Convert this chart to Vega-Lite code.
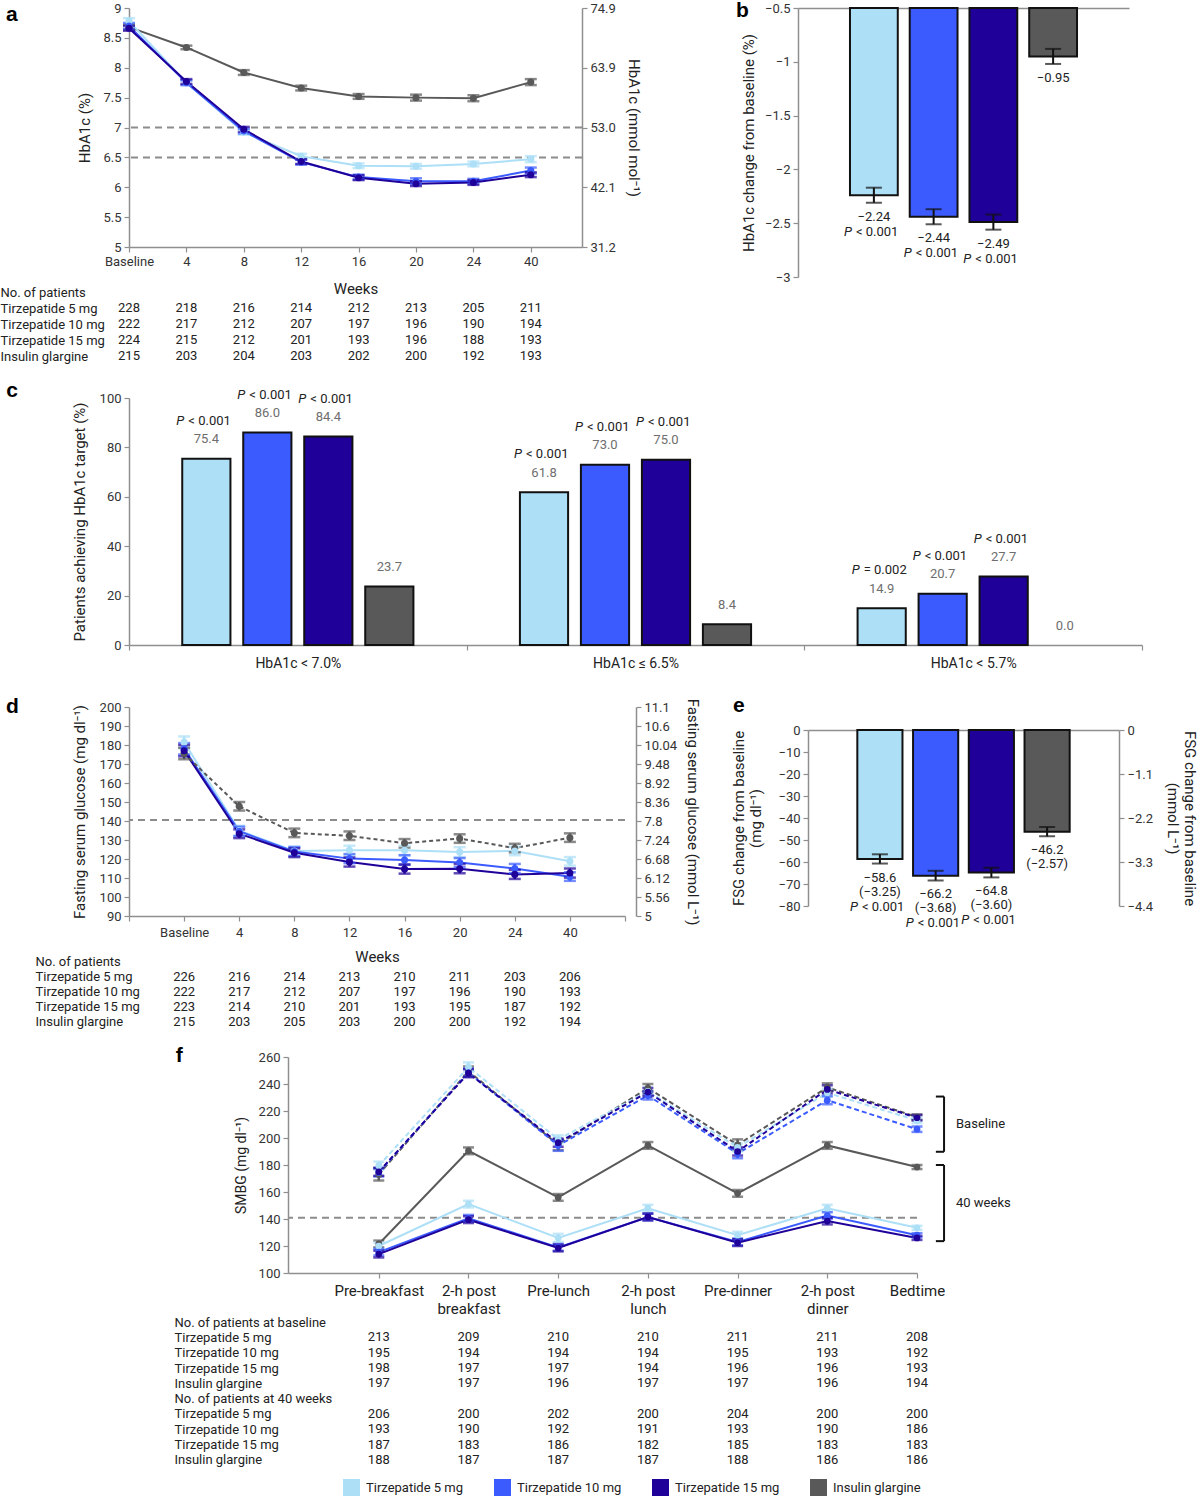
{
  "$schema": "https://vega.github.io/schema/vega-lite/v6.json",
  "padding": 0,
  "background": "white",
  "config": {
    "font": "Roboto",
    "view": {"stroke": null},
    "axis": {"domainColor": "#8f8f8f", "tickColor": "#8f8f8f", "domainWidth": 1.5, "tickWidth": 1.2, "labelColor": "#333", "titleColor": "#222", "labelFontSize": 13, "titleFontSize": 15, "titleFontWeight": "normal", "labelFont": "Roboto", "titleFont": "Roboto", "grid": false, "tickSize": 5, "labelPadding": 3, "labelOverlap": false},
    "text": {"font": "Roboto"}
  },
  "datasets": {
    "hba1c": [
      {"w": "Baseline", "s": "Insulin glargine", "v": 8.68, "lo": 8.64, "hi": 8.72},
      {"w": "4", "s": "Insulin glargine", "v": 8.34, "lo": 8.31, "hi": 8.37},
      {"w": "8", "s": "Insulin glargine", "v": 7.92, "lo": 7.88, "hi": 7.96},
      {"w": "12", "s": "Insulin glargine", "v": 7.66, "lo": 7.62, "hi": 7.70},
      {"w": "16", "s": "Insulin glargine", "v": 7.52, "lo": 7.48, "hi": 7.56},
      {"w": "20", "s": "Insulin glargine", "v": 7.50, "lo": 7.45, "hi": 7.55},
      {"w": "24", "s": "Insulin glargine", "v": 7.49, "lo": 7.44, "hi": 7.54},
      {"w": "40", "s": "Insulin glargine", "v": 7.76, "lo": 7.71, "hi": 7.81},
      {"w": "Baseline", "s": "Tirzepatide 5 mg", "v": 8.78, "lo": 8.73, "hi": 8.83},
      {"w": "4", "s": "Tirzepatide 5 mg", "v": 7.75, "lo": 7.71, "hi": 7.79},
      {"w": "8", "s": "Tirzepatide 5 mg", "v": 6.92, "lo": 6.88, "hi": 6.96},
      {"w": "12", "s": "Tirzepatide 5 mg", "v": 6.52, "lo": 6.48, "hi": 6.56},
      {"w": "16", "s": "Tirzepatide 5 mg", "v": 6.36, "lo": 6.32, "hi": 6.40},
      {"w": "20", "s": "Tirzepatide 5 mg", "v": 6.35, "lo": 6.31, "hi": 6.39},
      {"w": "24", "s": "Tirzepatide 5 mg", "v": 6.39, "lo": 6.35, "hi": 6.43},
      {"w": "40", "s": "Tirzepatide 5 mg", "v": 6.47, "lo": 6.42, "hi": 6.52},
      {"w": "Baseline", "s": "Tirzepatide 10 mg", "v": 8.70, "lo": 8.65, "hi": 8.75},
      {"w": "4", "s": "Tirzepatide 10 mg", "v": 7.75, "lo": 7.71, "hi": 7.79},
      {"w": "8", "s": "Tirzepatide 10 mg", "v": 6.94, "lo": 6.90, "hi": 6.98},
      {"w": "12", "s": "Tirzepatide 10 mg", "v": 6.42, "lo": 6.38, "hi": 6.46},
      {"w": "16", "s": "Tirzepatide 10 mg", "v": 6.17, "lo": 6.13, "hi": 6.21},
      {"w": "20", "s": "Tirzepatide 10 mg", "v": 6.10, "lo": 6.05, "hi": 6.15},
      {"w": "24", "s": "Tirzepatide 10 mg", "v": 6.10, "lo": 6.06, "hi": 6.14},
      {"w": "40", "s": "Tirzepatide 10 mg", "v": 6.28, "lo": 6.23, "hi": 6.33},
      {"w": "Baseline", "s": "Tirzepatide 15 mg", "v": 8.66, "lo": 8.62, "hi": 8.70},
      {"w": "4", "s": "Tirzepatide 15 mg", "v": 7.77, "lo": 7.73, "hi": 7.81},
      {"w": "8", "s": "Tirzepatide 15 mg", "v": 6.97, "lo": 6.93, "hi": 7.01},
      {"w": "12", "s": "Tirzepatide 15 mg", "v": 6.43, "lo": 6.39, "hi": 6.47},
      {"w": "16", "s": "Tirzepatide 15 mg", "v": 6.16, "lo": 6.12, "hi": 6.20},
      {"w": "20", "s": "Tirzepatide 15 mg", "v": 6.06, "lo": 6.02, "hi": 6.10},
      {"w": "24", "s": "Tirzepatide 15 mg", "v": 6.08, "lo": 6.04, "hi": 6.12},
      {"w": "40", "s": "Tirzepatide 15 mg", "v": 6.21, "lo": 6.17, "hi": 6.25}
    ],
    "nA": [
      {"g": "Tirzepatide 5 mg", "Baseline": 228, "4": 218, "8": 216, "12": 214, "16": 212, "20": 213, "24": 205, "40": 211},
      {"g": "Tirzepatide 10 mg", "Baseline": 222, "4": 217, "8": 212, "12": 207, "16": 197, "20": 196, "24": 190, "40": 194},
      {"g": "Tirzepatide 15 mg", "Baseline": 224, "4": 215, "8": 212, "12": 201, "16": 193, "20": 196, "24": 188, "40": 193},
      {"g": "Insulin glargine", "Baseline": 215, "4": 203, "8": 204, "12": 203, "16": 202, "20": 200, "24": 192, "40": 193}
    ],
    "hbchg": [
      {"s": "Tirzepatide 5 mg", "v": -2.24, "lo": -2.31, "hi": -2.17, "p": "< 0.001"},
      {"s": "Tirzepatide 10 mg", "v": -2.44, "lo": -2.51, "hi": -2.37, "p": "< 0.001"},
      {"s": "Tirzepatide 15 mg", "v": -2.49, "lo": -2.56, "hi": -2.42, "p": "< 0.001"},
      {"s": "Insulin glargine", "v": -0.95, "lo": -1.02, "hi": -0.88, "p": null}
    ],
    "target": [
      {"t": "HbA1c < 7.0%", "s": "Tirzepatide 5 mg", "v": 75.4, "p": "< 0.001"},
      {"t": "HbA1c < 7.0%", "s": "Tirzepatide 10 mg", "v": 86.0, "p": "< 0.001"},
      {"t": "HbA1c < 7.0%", "s": "Tirzepatide 15 mg", "v": 84.4, "p": "< 0.001"},
      {"t": "HbA1c < 7.0%", "s": "Insulin glargine", "v": 23.7, "p": null},
      {"t": "HbA1c ≤ 6.5%", "s": "Tirzepatide 5 mg", "v": 61.8, "p": "< 0.001"},
      {"t": "HbA1c ≤ 6.5%", "s": "Tirzepatide 10 mg", "v": 73.0, "p": "< 0.001"},
      {"t": "HbA1c ≤ 6.5%", "s": "Tirzepatide 15 mg", "v": 75.0, "p": "< 0.001"},
      {"t": "HbA1c ≤ 6.5%", "s": "Insulin glargine", "v": 8.4, "p": null},
      {"t": "HbA1c < 5.7%", "s": "Tirzepatide 5 mg", "v": 14.9, "p": "= 0.002"},
      {"t": "HbA1c < 5.7%", "s": "Tirzepatide 10 mg", "v": 20.7, "p": "< 0.001"},
      {"t": "HbA1c < 5.7%", "s": "Tirzepatide 15 mg", "v": 27.7, "p": "< 0.001"},
      {"t": "HbA1c < 5.7%", "s": "Insulin glargine", "v": 0.0, "p": null}
    ],
    "fsg": [
      {"w": "Baseline", "s": "Insulin glargine", "v": 175.5, "lo": 172.5, "hi": 178.5},
      {"w": "4", "s": "Insulin glargine", "v": 147.7, "lo": 145.5, "hi": 150.0},
      {"w": "8", "s": "Insulin glargine", "v": 133.7, "lo": 131.5, "hi": 136.0},
      {"w": "12", "s": "Insulin glargine", "v": 132.2, "lo": 130.0, "hi": 134.5},
      {"w": "16", "s": "Insulin glargine", "v": 128.3, "lo": 126.0, "hi": 130.5},
      {"w": "20", "s": "Insulin glargine", "v": 130.8, "lo": 128.5, "hi": 133.0},
      {"w": "24", "s": "Insulin glargine", "v": 125.7, "lo": 123.5, "hi": 128.0},
      {"w": "40", "s": "Insulin glargine", "v": 131.2, "lo": 129.0, "hi": 133.5},
      {"w": "Baseline", "s": "Tirzepatide 5 mg", "v": 181.5, "lo": 178.5, "hi": 184.5},
      {"w": "4", "s": "Tirzepatide 5 mg", "v": 135.0, "lo": 132.5, "hi": 137.5},
      {"w": "8", "s": "Tirzepatide 5 mg", "v": 124.2, "lo": 122.0, "hi": 126.5},
      {"w": "12", "s": "Tirzepatide 5 mg", "v": 124.6, "lo": 122.0, "hi": 127.0},
      {"w": "16", "s": "Tirzepatide 5 mg", "v": 124.6, "lo": 122.0, "hi": 127.0},
      {"w": "20", "s": "Tirzepatide 5 mg", "v": 123.7, "lo": 121.0, "hi": 126.2},
      {"w": "24", "s": "Tirzepatide 5 mg", "v": 124.2, "lo": 122.0, "hi": 126.5},
      {"w": "40", "s": "Tirzepatide 5 mg", "v": 118.8, "lo": 116.5, "hi": 121.0},
      {"w": "Baseline", "s": "Tirzepatide 10 mg", "v": 178.0, "lo": 175.0, "hi": 181.0},
      {"w": "4", "s": "Tirzepatide 10 mg", "v": 134.6, "lo": 132.0, "hi": 137.0},
      {"w": "8", "s": "Tirzepatide 10 mg", "v": 123.9, "lo": 121.5, "hi": 126.3},
      {"w": "12", "s": "Tirzepatide 10 mg", "v": 120.2, "lo": 117.8, "hi": 122.6},
      {"w": "16", "s": "Tirzepatide 10 mg", "v": 119.5, "lo": 117.0, "hi": 122.0},
      {"w": "20", "s": "Tirzepatide 10 mg", "v": 118.1, "lo": 115.7, "hi": 120.5},
      {"w": "24", "s": "Tirzepatide 10 mg", "v": 115.0, "lo": 112.6, "hi": 117.4},
      {"w": "40", "s": "Tirzepatide 10 mg", "v": 110.7, "lo": 108.5, "hi": 113.0},
      {"w": "Baseline", "s": "Tirzepatide 15 mg", "v": 177.0, "lo": 174.0, "hi": 180.0},
      {"w": "4", "s": "Tirzepatide 15 mg", "v": 133.3, "lo": 131.0, "hi": 135.6},
      {"w": "8", "s": "Tirzepatide 15 mg", "v": 123.3, "lo": 121.0, "hi": 125.6},
      {"w": "12", "s": "Tirzepatide 15 mg", "v": 118.4, "lo": 116.0, "hi": 120.8},
      {"w": "16", "s": "Tirzepatide 15 mg", "v": 114.7, "lo": 112.3, "hi": 117.1},
      {"w": "20", "s": "Tirzepatide 15 mg", "v": 114.9, "lo": 112.5, "hi": 117.3},
      {"w": "24", "s": "Tirzepatide 15 mg", "v": 111.9, "lo": 109.5, "hi": 114.3},
      {"w": "40", "s": "Tirzepatide 15 mg", "v": 112.6, "lo": 110.2, "hi": 115.0}
    ],
    "nD": [
      {"g": "Tirzepatide 5 mg", "Baseline": 226, "4": 216, "8": 214, "12": 213, "16": 210, "20": 211, "24": 203, "40": 206},
      {"g": "Tirzepatide 10 mg", "Baseline": 222, "4": 217, "8": 212, "12": 207, "16": 197, "20": 196, "24": 190, "40": 193},
      {"g": "Tirzepatide 15 mg", "Baseline": 223, "4": 214, "8": 210, "12": 201, "16": 193, "20": 195, "24": 187, "40": 192},
      {"g": "Insulin glargine", "Baseline": 215, "4": 203, "8": 205, "12": 203, "16": 200, "20": 200, "24": 192, "40": 194}
    ],
    "fsgchg": [
      {"s": "Tirzepatide 5 mg", "v": -58.6, "lo": -60.7, "hi": -56.5, "mm": "(−3.25)", "p": "< 0.001"},
      {"s": "Tirzepatide 10 mg", "v": -66.2, "lo": -68.4, "hi": -64.0, "mm": "(−3.68)", "p": "< 0.001"},
      {"s": "Tirzepatide 15 mg", "v": -64.8, "lo": -67.0, "hi": -62.6, "mm": "(−3.60)", "p": "< 0.001"},
      {"s": "Insulin glargine", "v": -46.2, "lo": -48.3, "hi": -44.1, "mm": "(−2.57)", "p": null}
    ],
    "smbg": [
      {"t": "Baseline", "m": "Pre-breakfast", "s": "Insulin glargine", "v": 173.0, "lo": 168.5, "hi": 177.5},
      {"t": "Baseline", "m": "2-h post breakfast", "s": "Insulin glargine", "v": 249.5, "lo": 246.0, "hi": 253.0},
      {"t": "Baseline", "m": "Pre-lunch", "s": "Insulin glargine", "v": 195.0, "lo": 191.0, "hi": 199.0},
      {"t": "Baseline", "m": "2-h post lunch", "s": "Insulin glargine", "v": 237.0, "lo": 234.0, "hi": 240.0},
      {"t": "Baseline", "m": "Pre-dinner", "s": "Insulin glargine", "v": 195.0, "lo": 191.0, "hi": 199.0},
      {"t": "Baseline", "m": "2-h post dinner", "s": "Insulin glargine", "v": 237.5, "lo": 234.5, "hi": 240.5},
      {"t": "Baseline", "m": "Bedtime", "s": "Insulin glargine", "v": 215.5, "lo": 213.5, "hi": 217.5},
      {"t": "Baseline", "m": "Pre-breakfast", "s": "Tirzepatide 5 mg", "v": 179.5, "lo": 176.5, "hi": 182.5},
      {"t": "Baseline", "m": "2-h post breakfast", "s": "Tirzepatide 5 mg", "v": 252.5, "lo": 249.0, "hi": 256.0},
      {"t": "Baseline", "m": "Pre-lunch", "s": "Tirzepatide 5 mg", "v": 199.0, "lo": 196.0, "hi": 202.0},
      {"t": "Baseline", "m": "2-h post lunch", "s": "Tirzepatide 5 mg", "v": 234.5, "lo": 231.5, "hi": 237.5},
      {"t": "Baseline", "m": "Pre-dinner", "s": "Tirzepatide 5 mg", "v": 193.0, "lo": 190.0, "hi": 196.0},
      {"t": "Baseline", "m": "2-h post dinner", "s": "Tirzepatide 5 mg", "v": 233.5, "lo": 230.5, "hi": 236.5},
      {"t": "Baseline", "m": "Bedtime", "s": "Tirzepatide 5 mg", "v": 213.0, "lo": 211.0, "hi": 215.0},
      {"t": "Baseline", "m": "Pre-breakfast", "s": "Tirzepatide 10 mg", "v": 174.5, "lo": 171.5, "hi": 177.5},
      {"t": "Baseline", "m": "2-h post breakfast", "s": "Tirzepatide 10 mg", "v": 248.5, "lo": 245.5, "hi": 251.5},
      {"t": "Baseline", "m": "Pre-lunch", "s": "Tirzepatide 10 mg", "v": 194.5, "lo": 190.5, "hi": 198.5},
      {"t": "Baseline", "m": "2-h post lunch", "s": "Tirzepatide 10 mg", "v": 231.5, "lo": 228.5, "hi": 234.5},
      {"t": "Baseline", "m": "Pre-dinner", "s": "Tirzepatide 10 mg", "v": 188.5, "lo": 185.0, "hi": 192.0},
      {"t": "Baseline", "m": "2-h post dinner", "s": "Tirzepatide 10 mg", "v": 228.0, "lo": 225.0, "hi": 231.0},
      {"t": "Baseline", "m": "Bedtime", "s": "Tirzepatide 10 mg", "v": 206.5, "lo": 204.5, "hi": 208.5},
      {"t": "Baseline", "m": "Pre-breakfast", "s": "Tirzepatide 15 mg", "v": 175.0, "lo": 172.0, "hi": 178.0},
      {"t": "Baseline", "m": "2-h post breakfast", "s": "Tirzepatide 15 mg", "v": 248.0, "lo": 245.0, "hi": 251.0},
      {"t": "Baseline", "m": "Pre-lunch", "s": "Tirzepatide 15 mg", "v": 196.5, "lo": 193.5, "hi": 199.5},
      {"t": "Baseline", "m": "2-h post lunch", "s": "Tirzepatide 15 mg", "v": 234.0, "lo": 231.0, "hi": 237.0},
      {"t": "Baseline", "m": "Pre-dinner", "s": "Tirzepatide 15 mg", "v": 190.0, "lo": 187.0, "hi": 193.0},
      {"t": "Baseline", "m": "2-h post dinner", "s": "Tirzepatide 15 mg", "v": 236.0, "lo": 233.0, "hi": 239.0},
      {"t": "Baseline", "m": "Bedtime", "s": "Tirzepatide 15 mg", "v": 215.0, "lo": 213.0, "hi": 217.0},
      {"t": "40 weeks", "m": "Pre-breakfast", "s": "Insulin glargine", "v": 121.5, "lo": 119.0, "hi": 124.0},
      {"t": "40 weeks", "m": "2-h post breakfast", "s": "Insulin glargine", "v": 190.5, "lo": 188.0, "hi": 193.0},
      {"t": "40 weeks", "m": "Pre-lunch", "s": "Insulin glargine", "v": 156.0, "lo": 153.5, "hi": 158.5},
      {"t": "40 weeks", "m": "2-h post lunch", "s": "Insulin glargine", "v": 194.5, "lo": 192.0, "hi": 197.0},
      {"t": "40 weeks", "m": "Pre-dinner", "s": "Insulin glargine", "v": 159.0, "lo": 156.5, "hi": 161.5},
      {"t": "40 weeks", "m": "2-h post dinner", "s": "Insulin glargine", "v": 194.5, "lo": 192.0, "hi": 197.0},
      {"t": "40 weeks", "m": "Bedtime", "s": "Insulin glargine", "v": 178.5, "lo": 177.0, "hi": 180.0},
      {"t": "40 weeks", "m": "Pre-breakfast", "s": "Tirzepatide 5 mg", "v": 120.0, "lo": 117.5, "hi": 122.5},
      {"t": "40 weeks", "m": "2-h post breakfast", "s": "Tirzepatide 5 mg", "v": 151.0, "lo": 148.5, "hi": 153.5},
      {"t": "40 weeks", "m": "Pre-lunch", "s": "Tirzepatide 5 mg", "v": 126.0, "lo": 123.0, "hi": 129.0},
      {"t": "40 weeks", "m": "2-h post lunch", "s": "Tirzepatide 5 mg", "v": 148.0, "lo": 145.5, "hi": 150.5},
      {"t": "40 weeks", "m": "Pre-dinner", "s": "Tirzepatide 5 mg", "v": 128.0, "lo": 125.5, "hi": 130.5},
      {"t": "40 weeks", "m": "2-h post dinner", "s": "Tirzepatide 5 mg", "v": 148.0, "lo": 145.5, "hi": 150.5},
      {"t": "40 weeks", "m": "Bedtime", "s": "Tirzepatide 5 mg", "v": 133.5, "lo": 132.0, "hi": 135.0},
      {"t": "40 weeks", "m": "Pre-breakfast", "s": "Tirzepatide 10 mg", "v": 115.5, "lo": 113.0, "hi": 118.0},
      {"t": "40 weeks", "m": "2-h post breakfast", "s": "Tirzepatide 10 mg", "v": 140.5, "lo": 138.0, "hi": 143.0},
      {"t": "40 weeks", "m": "Pre-lunch", "s": "Tirzepatide 10 mg", "v": 119.0, "lo": 116.5, "hi": 121.5},
      {"t": "40 weeks", "m": "2-h post lunch", "s": "Tirzepatide 10 mg", "v": 141.5, "lo": 139.0, "hi": 144.0},
      {"t": "40 weeks", "m": "Pre-dinner", "s": "Tirzepatide 10 mg", "v": 123.0, "lo": 120.5, "hi": 125.5},
      {"t": "40 weeks", "m": "2-h post dinner", "s": "Tirzepatide 10 mg", "v": 142.5, "lo": 140.0, "hi": 145.0},
      {"t": "40 weeks", "m": "Bedtime", "s": "Tirzepatide 10 mg", "v": 128.0, "lo": 126.5, "hi": 129.5},
      {"t": "40 weeks", "m": "Pre-breakfast", "s": "Tirzepatide 15 mg", "v": 114.0, "lo": 111.5, "hi": 116.5},
      {"t": "40 weeks", "m": "2-h post breakfast", "s": "Tirzepatide 15 mg", "v": 139.5, "lo": 137.0, "hi": 142.0},
      {"t": "40 weeks", "m": "Pre-lunch", "s": "Tirzepatide 15 mg", "v": 118.5, "lo": 116.0, "hi": 121.0},
      {"t": "40 weeks", "m": "2-h post lunch", "s": "Tirzepatide 15 mg", "v": 141.5, "lo": 139.0, "hi": 144.0},
      {"t": "40 weeks", "m": "Pre-dinner", "s": "Tirzepatide 15 mg", "v": 122.5, "lo": 120.0, "hi": 125.0},
      {"t": "40 weeks", "m": "2-h post dinner", "s": "Tirzepatide 15 mg", "v": 138.5, "lo": 136.0, "hi": 141.0},
      {"t": "40 weeks", "m": "Bedtime", "s": "Tirzepatide 15 mg", "v": 126.0, "lo": 124.5, "hi": 127.5}
    ],
    "nF": [
      {"g": "b|Tirzepatide 5 mg", "Pre-breakfast": 213, "2-h post breakfast": 209, "Pre-lunch": 210, "2-h post lunch": 210, "Pre-dinner": 211, "2-h post dinner": 211, "Bedtime": 208},
      {"g": "b|Tirzepatide 10 mg", "Pre-breakfast": 195, "2-h post breakfast": 194, "Pre-lunch": 194, "2-h post lunch": 194, "Pre-dinner": 195, "2-h post dinner": 193, "Bedtime": 192},
      {"g": "b|Tirzepatide 15 mg", "Pre-breakfast": 198, "2-h post breakfast": 197, "Pre-lunch": 197, "2-h post lunch": 194, "Pre-dinner": 196, "2-h post dinner": 196, "Bedtime": 193},
      {"g": "b|Insulin glargine", "Pre-breakfast": 197, "2-h post breakfast": 197, "Pre-lunch": 196, "2-h post lunch": 197, "Pre-dinner": 197, "2-h post dinner": 196, "Bedtime": 194},
      {"g": "w|Tirzepatide 5 mg", "Pre-breakfast": 206, "2-h post breakfast": 200, "Pre-lunch": 202, "2-h post lunch": 200, "Pre-dinner": 204, "2-h post dinner": 200, "Bedtime": 200},
      {"g": "w|Tirzepatide 10 mg", "Pre-breakfast": 193, "2-h post breakfast": 190, "Pre-lunch": 192, "2-h post lunch": 191, "Pre-dinner": 193, "2-h post dinner": 190, "Bedtime": 186},
      {"g": "w|Tirzepatide 15 mg", "Pre-breakfast": 187, "2-h post breakfast": 183, "Pre-lunch": 186, "2-h post lunch": 182, "Pre-dinner": 185, "2-h post dinner": 183, "Bedtime": 183},
      {"g": "w|Insulin glargine", "Pre-breakfast": 188, "2-h post breakfast": 187, "Pre-lunch": 187, "2-h post lunch": 187, "Pre-dinner": 188, "2-h post dinner": 186, "Bedtime": 186}
    ]
  },
  "resolve": {"legend": {"color": "independent"}},
  "spacing": 6,
  "vconcat": [
    {
      "spacing": 94,
      "hconcat": [
        {
          "spacing": 13,
          "vconcat": [
            {
              "width": 453, "height": 239,
              "resolve": {"scale": {"y": "independent"}},
              "layer": [
                {
                  "data": {"values": [{"r": 7.0}, {"r": 6.5}]},
                  "mark": {"type": "rule", "strokeDash": [7, 5], "strokeWidth": 2, "color": "#8c8c8c"},
                  "encoding": {"y": {"field": "r", "type": "quantitative", "scale": {"domain": [5, 9], "nice": false, "zero": false}, "axis": {"orient": "right", "title": "HbA1c (mmol mol⁻¹)", "values": [5, 6, 7, 8, 9], "tickCount": 20, "labelOverlap": false, "labelExpr": "['31.2','42.1','53.0','63.9','74.9'][round(datum.value-5)]", "titlePadding": 10}}}
                },
                {
                  "data": {"name": "hba1c"},
                  "encoding": {
                    "x": {"field": "w", "type": "ordinal", "sort": null, "scale": {"type": "point", "domain": ["Baseline", "4", "8", "12", "16", "20", "24", "40"], "padding": 0.446, "align": 0}, "axis": {"title": null, "labelAngle": 0}},
                    "color": {"field": "s", "type": "nominal", "title": null, "scale": {"domain": ["Tirzepatide 5 mg", "Tirzepatide 10 mg", "Tirzepatide 15 mg", "Insulin glargine"], "range": ["#addff7", "#3b5bff", "#1f0099", "#595959"]}, "legend": null}
                  },
                  "layer": [
                    {"mark": {"type": "line", "strokeWidth": 2}, "encoding": {"y": {"field": "v", "type": "quantitative", "scale": {"domain": [5, 9], "nice": false, "zero": false}, "axis": {"title": "HbA1c (%)", "values": [5, 5.5, 6, 6.5, 7, 7.5, 8, 8.5, 9], "tickCount": 20, "labelOverlap": false, "format": "~g", "titlePadding": 10}}, "order": {"value": null}}},
                    {"mark": {"type": "rule", "strokeWidth": 2.5}, "encoding": {"y": {"field": "lo", "type": "quantitative"}, "y2": {"field": "hi"}}},
                    {"mark": {"type": "tick", "thickness": 2.5, "size": 12}, "encoding": {"y": {"field": "lo", "type": "quantitative"}}},
                    {"mark": {"type": "tick", "thickness": 2.5, "size": 12}, "encoding": {"y": {"field": "hi", "type": "quantitative"}}},
                    {"mark": {"type": "circle", "size": 50, "opacity": 1}, "encoding": {"y": {"field": "v", "type": "quantitative"}}},
                    {"data": {"values": [{"k": "a"}]}, "mark": {"type": "text", "font": "Liberation Sans", "fontSize": 21, "fontWeight": "bold", "align": "left", "baseline": "alphabetic", "dx": -123, "dy": 13}, "encoding": {"x": {"datum": "Baseline", "type": "ordinal"}, "y": {"datum": 9, "type": "quantitative"}, "text": {"field": "k"}, "color": {"value": "#000"}}}
                  ]
                }
              ]
            },
            {
              "width": 453, "height": 80,
              "data": {"name": "nA"},
              "transform": [{"fold": ["Baseline", "4", "8", "12", "16", "20", "24", "40"], "as": ["w", "n"]}],
              "mark": {"type": "text", "fontSize": 13, "color": "#222"},
              "encoding": {
                "x": {"field": "w", "type": "ordinal", "sort": null, "scale": {"type": "point", "domain": ["Baseline", "4", "8", "12", "16", "20", "24", "40"], "padding": 0.446, "align": 0}, "axis": {"orient": "top", "labels": false, "ticks": false, "domain": false, "title": "Weeks", "titleY": 4, "titleBaseline": "middle"}},
                "y": {"field": "g", "type": "nominal", "scale": {"domain": ["No. of patients", "Tirzepatide 5 mg", "Tirzepatide 10 mg", "Tirzepatide 15 mg", "Insulin glargine"]}, "axis": {"title": null, "domain": false, "ticks": false, "labelAlign": "left", "labelPadding": 129, "labelFontSize": 13, "labelColor": "#222"}},
                "text": {"field": "n", "type": "quantitative"}
              }
            }
          ]
        },
        {
          "vconcat": [
            {
              "width": 331, "height": 269,
              "data": {"name": "hbchg"},
              "encoding": {"x": {"field": "s", "type": "nominal", "sort": null, "scale": {"domain": ["Tirzepatide 5 mg", "Tirzepatide 10 mg", "Tirzepatide 15 mg", "Insulin glargine"], "paddingInner": 0.2, "paddingOuter": 0.87}, "axis": {"orient": "top", "labels": false, "ticks": false, "title": null}}},
              "layer": [
                {"mark": {"type": "bar", "stroke": "#111", "strokeWidth": 2}, "encoding": {"y": {"field": "v", "type": "quantitative", "scale": {"domain": [-3, -0.5], "nice": false, "zero": false}, "axis": {"title": "HbA1c change from baseline (%)", "values": [-3, -2.5, -2, -1.5, -1, -0.5], "tickCount": 20, "labelOverlap": false, "format": "~g", "titlePadding": 8}}, "y2": {"datum": -0.5}, "color": {"field": "s", "type": "nominal", "title": null, "scale": {"domain": ["Tirzepatide 5 mg", "Tirzepatide 10 mg", "Tirzepatide 15 mg", "Insulin glargine"], "range": ["#addff7", "#3b5bff", "#1f0099", "#595959"]}, "legend": null}}},
                {"mark": {"type": "rule", "color": "#111", "strokeWidth": 2}, "encoding": {"y": {"field": "lo", "type": "quantitative"}, "y2": {"field": "hi"}}},
                {"mark": {"type": "tick", "color": "#111", "thickness": 2, "size": 16}, "encoding": {"y": {"field": "lo", "type": "quantitative"}}},
                {"mark": {"type": "tick", "color": "#111", "thickness": 2, "size": 16}, "encoding": {"y": {"field": "hi", "type": "quantitative"}}},
                {"mark": {"type": "text", "dy": 14, "fontSize": 13, "color": "#222"}, "encoding": {"y": {"field": "lo", "type": "quantitative"}, "text": {"field": "v", "type": "quantitative", "format": ".2f"}}},
                {"transform": [{"filter": "datum.p"}], "mark": {"type": "text", "dy": 29, "dx": -30, "align": "left", "fontStyle": "italic", "fontSize": 13, "color": "#222"}, "encoding": {"y": {"field": "lo", "type": "quantitative"}, "text": {"value": "P"}}},
                {"transform": [{"filter": "datum.p"}], "mark": {"type": "text", "dy": 29, "dx": -18, "align": "left", "fontSize": 13, "color": "#222"}, "encoding": {"y": {"field": "lo", "type": "quantitative"}, "text": {"field": "p"}}},
                {"data": {"values": [{"k": "b"}]}, "mark": {"type": "text", "font": "Liberation Sans", "fontSize": 21, "fontWeight": "bold", "align": "left", "baseline": "alphabetic", "dx": -138, "dy": 9, "color": "#000"}, "encoding": {"x": {"datum": "Tirzepatide 5 mg", "type": "nominal"}, "y": {"datum": -0.5, "type": "quantitative"}, "text": {"field": "k"}}}
              ]
            }
          ]
        }
      ]
    },
    {
      "spacing": 5,
      "vconcat": [
        {"width": 1, "height": 5, "data": {"values": [{}]}, "mark": {"type": "rect", "opacity": 0}},
        {
          "width": 1013, "height": 247,
          "data": {"name": "target"},
          "encoding": {
            "x": {"field": "t", "type": "nominal", "sort": null, "scale": {"domain": ["HbA1c < 7.0%", "HbA1c ≤ 6.5%", "HbA1c < 5.7%"], "paddingInner": 0, "paddingOuter": 0}, "axis": {"title": null, "labelAngle": 0, "tickBand": "extent", "labelFontSize": 14, "labelPadding": 6, "labelColor": "#222"}},
            "xOffset": {"field": "s", "type": "nominal", "sort": null, "scale": {"domain": ["Tirzepatide 5 mg", "Tirzepatide 10 mg", "Tirzepatide 15 mg", "Insulin glargine"], "paddingInner": 0.21, "paddingOuter": 0.873}}
          },
          "layer": [
            {"transform": [{"filter": "datum.v > 0"}], "mark": {"type": "bar", "stroke": "#111", "strokeWidth": 2}, "encoding": {"y": {"field": "v", "type": "quantitative", "scale": {"domain": [0, 100], "nice": false}, "axis": {"title": "Patients achieving HbA1c target (%)", "values": [0, 20, 40, 60, 80, 100], "tickCount": 20, "labelOverlap": false, "titlePadding": 12}}, "color": {"field": "s", "type": "nominal", "title": null, "scale": {"domain": ["Tirzepatide 5 mg", "Tirzepatide 10 mg", "Tirzepatide 15 mg", "Insulin glargine"], "range": ["#addff7", "#3b5bff", "#1f0099", "#595959"]}, "legend": null}}},
            {"mark": {"type": "text", "dy": -19.5, "fontSize": 13, "color": "#6e6e6e"}, "encoding": {"y": {"field": "v", "type": "quantitative"}, "text": {"field": "v", "type": "quantitative", "format": ".1f"}}},
            {"transform": [{"filter": "datum.p"}], "mark": {"type": "text", "dy": -38, "dx": -30, "align": "left", "fontStyle": "italic", "fontSize": 13, "color": "#222"}, "encoding": {"y": {"field": "v", "type": "quantitative"}, "text": {"value": "P"}}},
            {"transform": [{"filter": "datum.p"}], "mark": {"type": "text", "dy": -38, "dx": -18, "align": "left", "fontSize": 13, "color": "#222"}, "encoding": {"y": {"field": "v", "type": "quantitative"}, "text": {"field": "p"}}},
            {"data": {"values": [{"k": "c"}]}, "mark": {"type": "text", "font": "Liberation Sans", "fontSize": 21, "fontWeight": "bold", "align": "left", "baseline": "alphabetic", "dx": -200, "dy": -1, "color": "#000"}, "encoding": {"x": {"datum": "HbA1c < 7.0%", "type": "nominal"}, "xOffset": {"datum": "Tirzepatide 5 mg", "type": "nominal"}, "y": {"datum": 100, "type": "quantitative"}, "text": {"field": "k"}}}
          ]
        }
      ]
    },
    {
      "spacing": 31,
      "hconcat": [
        {
          "spacing": 10,
          "vconcat": [
            {"width": 1, "height": 10, "data": {"values": [{}]}, "mark": {"type": "rect", "opacity": 0}},
            {
              "width": 496, "height": 209,
              "resolve": {"scale": {"y": "independent"}},
              "layer": [
                {
                  "data": {"values": [{"r": 140.5}]},
                  "mark": {"type": "rule", "strokeDash": [7, 5], "strokeWidth": 2, "color": "#8c8c8c"},
                  "encoding": {"y": {"field": "r", "type": "quantitative", "scale": {"domain": [90, 200], "nice": false, "zero": false}, "axis": {"orient": "right", "offset": 11, "title": "Fasting serum glucose (mmol L⁻¹)", "values": [90, 100, 110, 120, 130, 140, 150, 160, 170, 180, 190, 200], "tickCount": 20, "labelOverlap": false, "labelExpr": "['5','5.56','6.12','6.68','7.24','7.8','8.36','8.92','9.48','10.04','10.6','11.1'][round((datum.value-90)/10)]", "titlePadding": 8}}}
                },
                {
                  "data": {"name": "fsg"},
                  "encoding": {
                    "x": {"field": "w", "type": "ordinal", "sort": null, "scale": {"type": "point", "domain": ["s0", "Baseline", "4", "8", "12", "16", "20", "24", "40", "s9"], "padding": 0}, "axis": {"title": null, "labelAngle": 0, "labelPadding": 5, "labelExpr": "indexof(datum.label,'s')==0 ? '' : datum.label"}},
                    "color": {"field": "s", "type": "nominal", "title": null, "scale": {"domain": ["Tirzepatide 5 mg", "Tirzepatide 10 mg", "Tirzepatide 15 mg", "Insulin glargine"], "range": ["#addff7", "#3b5bff", "#1f0099", "#595959"]}, "legend": null}
                  },
                  "layer": [
                    {"transform": [{"filter": "datum.s != 'Insulin glargine'"}], "mark": {"type": "line", "strokeWidth": 2}, "encoding": {"y": {"field": "v", "type": "quantitative", "scale": {"domain": [90, 200], "nice": false, "zero": false}, "axis": {"title": "Fasting serum glucose (mg dl⁻¹)", "values": [90, 100, 110, 120, 130, 140, 150, 160, 170, 180, 190, 200], "tickCount": 20, "labelOverlap": false, "titlePadding": 12}}, "order": {"value": null}}},
                    {"transform": [{"filter": "datum.s == 'Insulin glargine'"}], "mark": {"type": "line", "strokeWidth": 2, "strokeDash": [4, 3]}, "encoding": {"y": {"field": "v", "type": "quantitative"}, "order": {"value": null}}},
                    {"mark": {"type": "rule", "strokeWidth": 2.5}, "encoding": {"y": {"field": "lo", "type": "quantitative"}, "y2": {"field": "hi"}}},
                    {"mark": {"type": "tick", "thickness": 2.5, "size": 12}, "encoding": {"y": {"field": "lo", "type": "quantitative"}}},
                    {"mark": {"type": "tick", "thickness": 2.5, "size": 12}, "encoding": {"y": {"field": "hi", "type": "quantitative"}}},
                    {"mark": {"type": "circle", "size": 50, "opacity": 1}, "encoding": {"y": {"field": "v", "type": "quantitative"}}},
                    {"data": {"values": [{"k": "d"}]}, "mark": {"type": "text", "font": "Liberation Sans", "fontSize": 21, "fontWeight": "bold", "align": "left", "baseline": "alphabetic", "dx": -123, "dy": 6}, "encoding": {"x": {"datum": "s0", "type": "ordinal"}, "y": {"datum": 200, "type": "quantitative"}, "text": {"field": "k"}, "color": {"value": "#000"}}}
                  ]
                }
              ]
            },
            {
              "width": 496, "height": 75,
              "data": {"name": "nD"},
              "transform": [{"fold": ["Baseline", "4", "8", "12", "16", "20", "24", "40"], "as": ["w", "n"]}],
              "mark": {"type": "text", "fontSize": 13, "color": "#222"},
              "encoding": {
                "x": {"field": "w", "type": "ordinal", "sort": null, "scale": {"type": "point", "domain": ["s0", "Baseline", "4", "8", "12", "16", "20", "24", "40", "s9"], "padding": 0}, "axis": {"orient": "top", "labels": false, "ticks": false, "domain": false, "title": "Weeks", "titleY": 2.5, "titleBaseline": "middle"}},
                "y": {"field": "g", "type": "nominal", "scale": {"domain": ["No. of patients", "Tirzepatide 5 mg", "Tirzepatide 10 mg", "Tirzepatide 15 mg", "Insulin glargine"]}, "axis": {"title": null, "domain": false, "ticks": false, "labelAlign": "left", "labelPadding": 94, "labelFontSize": 13, "labelColor": "#222"}},
                "text": {"field": "n", "type": "quantitative"}
              }
            }
          ]
        },
        {
          "spacing": 7,
          "vconcat": [
            {"width": 1, "height": 12, "data": {"values": [{}]}, "mark": {"type": "rect", "opacity": 0}},
            {
              "width": 311, "height": 176,
              "resolve": {"scale": {"y": "independent"}},
              "layer": [
                {
                  "data": {"values": [{"r": 0}]},
                  "mark": {"type": "rule", "opacity": 0},
                  "encoding": {"y": {"field": "r", "type": "quantitative", "scale": {"domain": [-80, 0], "nice": false, "zero": false}, "axis": {"orient": "right", "values": [-80, -60, -40, -20, 0], "tickCount": 20, "labelOverlap": false, "labelExpr": "['−4.4','−3.3','−2.2','−1.1','0'][round((datum.value+80)/20)]", "title": ["FSG change from baseline", "(mmol L⁻¹)"], "titlePadding": 12}}}
                },
                {
                  "data": {"name": "fsgchg"},
                  "encoding": {"x": {"field": "s", "type": "nominal", "sort": null, "scale": {"domain": ["Tirzepatide 5 mg", "Tirzepatide 10 mg", "Tirzepatide 15 mg", "Insulin glargine"], "paddingInner": 0.19, "paddingOuter": 0.885}, "axis": {"orient": "top", "labels": false, "ticks": false, "title": null}}},
                  "layer": [
                    {"mark": {"type": "bar", "stroke": "#111", "strokeWidth": 2}, "encoding": {"y": {"field": "v", "type": "quantitative", "scale": {"domain": [-80, 0], "nice": false, "zero": false}, "axis": {"title": ["FSG change from baseline", "(mg dl⁻¹)"], "values": [-80, -70, -60, -50, -40, -30, -20, -10, 0], "tickCount": 20, "labelOverlap": false, "titlePadding": 14}}, "y2": {"datum": 0}, "color": {"field": "s", "type": "nominal", "title": null, "scale": {"domain": ["Tirzepatide 5 mg", "Tirzepatide 10 mg", "Tirzepatide 15 mg", "Insulin glargine"], "range": ["#addff7", "#3b5bff", "#1f0099", "#595959"]}, "legend": null}}},
                    {"mark": {"type": "rule", "color": "#111", "strokeWidth": 2}, "encoding": {"y": {"field": "lo", "type": "quantitative"}, "y2": {"field": "hi"}}},
                    {"mark": {"type": "tick", "color": "#111", "thickness": 2, "size": 16}, "encoding": {"y": {"field": "lo", "type": "quantitative"}}},
                    {"mark": {"type": "tick", "color": "#111", "thickness": 2, "size": 16}, "encoding": {"y": {"field": "hi", "type": "quantitative"}}},
                    {"mark": {"type": "text", "dy": 14, "fontSize": 13, "color": "#222"}, "encoding": {"y": {"field": "lo", "type": "quantitative"}, "text": {"field": "v", "type": "quantitative", "format": ".1f"}}},
                    {"mark": {"type": "text", "dy": 28, "fontSize": 13, "color": "#222"}, "encoding": {"y": {"field": "lo", "type": "quantitative"}, "text": {"field": "mm"}}},
                    {"transform": [{"filter": "datum.p"}], "mark": {"type": "text", "dy": 43, "dx": -30, "align": "left", "fontStyle": "italic", "fontSize": 13, "color": "#222"}, "encoding": {"y": {"field": "lo", "type": "quantitative"}, "text": {"value": "P"}}},
                    {"transform": [{"filter": "datum.p"}], "mark": {"type": "text", "dy": 43, "dx": -18, "align": "left", "fontSize": 13, "color": "#222"}, "encoding": {"y": {"field": "lo", "type": "quantitative"}, "text": {"field": "p"}}},
                    {"data": {"values": [{"k": "e"}]}, "mark": {"type": "text", "font": "Liberation Sans", "fontSize": 21, "fontWeight": "bold", "align": "left", "baseline": "alphabetic", "dx": -147, "dy": -18, "color": "#000"}, "encoding": {"x": {"datum": "Tirzepatide 5 mg", "type": "nominal"}, "y": {"datum": 0, "type": "quantitative"}, "text": {"field": "k"}}}
                  ]
                }
              ]
            }
          ]
        }
      ]
    },
    {
      "spacing": 5,
      "resolve": {"legend": {"color": "independent"}},
      "hconcat": [
        {"width": 40, "height": 1, "data": {"values": [{}]}, "mark": {"type": "rect", "opacity": 0}},
        {
          "spacing": 0,
          "resolve": {"legend": {"color": "independent"}},
          "vconcat": [
            {"width": 1, "height": 10, "data": {"values": [{}]}, "mark": {"type": "rect", "opacity": 0}},
            {
              "width": 629, "height": 216,
              "resolve": {"scale": {"x": "independent"}},
              "layer": [
                {
                  "data": {"values": [{"r": 141}]},
                  "mark": {"type": "rule", "strokeDash": [7, 5], "strokeWidth": 2, "color": "#8c8c8c"},
                  "encoding": {"y": {"field": "r", "type": "quantitative"}}
                },
                {
                  "data": {"name": "smbg"},
                  "encoding": {
                    "x": {"field": "m", "type": "ordinal", "sort": null, "scale": {"type": "point", "domain": ["Pre-breakfast", "2-h post breakfast", "Pre-lunch", "2-h post lunch", "Pre-dinner", "2-h post dinner", "Bedtime"], "padding": 0.506, "align": 1}, "axis": {"title": null, "labelAngle": 0, "labelFontSize": 15, "labelPadding": 5, "labelColor": "#222", "labelLineHeight": 18, "labelExpr": "indexof(datum.label,'2-h post ')==0 ? ['2-h post', slice(datum.label,9)] : datum.label"}},
                    "color": {"field": "s", "type": "nominal", "title": null, "scale": {"domain": ["Tirzepatide 5 mg", "Tirzepatide 10 mg", "Tirzepatide 15 mg", "Insulin glargine"], "range": ["#addff7", "#3b5bff", "#1f0099", "#595959"]}, "legend": null}
                  },
                  "layer": [
                    {"transform": [{"filter": "datum.t == 'Baseline'"}], "mark": {"type": "line", "strokeWidth": 2, "strokeDash": [5, 3]}, "encoding": {"y": {"field": "v", "type": "quantitative", "scale": {"domain": [100, 260], "nice": false, "zero": false}, "axis": {"title": "SMBG (mg dl⁻¹)", "values": [100, 120, 140, 160, 180, 200, 220, 240, 260], "tickCount": 20, "labelOverlap": false, "titlePadding": 10, "titleFontSize": 14}}, "order": {"value": null}}},
                    {"transform": [{"filter": "datum.t == '40 weeks'"}], "mark": {"type": "line", "strokeWidth": 2}, "encoding": {"y": {"field": "v", "type": "quantitative"}, "order": {"value": null}}},
                    {"mark": {"type": "rule", "strokeWidth": 2.5}, "encoding": {"y": {"field": "lo", "type": "quantitative"}, "y2": {"field": "hi"}}},
                    {"mark": {"type": "tick", "thickness": 2.5, "size": 11}, "encoding": {"y": {"field": "lo", "type": "quantitative"}}},
                    {"mark": {"type": "tick", "thickness": 2.5, "size": 11}, "encoding": {"y": {"field": "hi", "type": "quantitative"}}},
                    {"mark": {"type": "circle", "size": 45, "opacity": 1}, "encoding": {"y": {"field": "v", "type": "quantitative"}}},
                    {"data": {"values": [{"k": "f"}]}, "mark": {"type": "text", "font": "Liberation Sans", "fontSize": 21, "fontWeight": "bold", "align": "left", "baseline": "alphabetic", "dx": -203, "dy": 5}, "encoding": {"x": {"datum": "Pre-breakfast", "type": "ordinal"}, "y": {"datum": 260, "type": "quantitative"}, "text": {"field": "k"}, "color": {"value": "#000"}}}
                  ]
                },
                {
                  "data": {"values": [{"grp": "Baseline", "lo": 189.8, "hi": 230.7}, {"grp": "40 weeks", "lo": 123.6, "hi": 180.0}]},
                  "layer": [
                    {"mark": {"type": "rule", "color": "#111", "strokeWidth": 2}, "encoding": {"x": {"datum": 1.043, "type": "quantitative", "scale": {"domain": [0, 1], "nice": false, "zero": false}, "axis": null}, "y": {"field": "lo", "type": "quantitative"}, "y2": {"field": "hi"}}},
                    {"mark": {"type": "rule", "color": "#111", "strokeWidth": 2}, "encoding": {"x": {"datum": 1.03, "type": "quantitative"}, "x2": {"datum": 1.043}, "y": {"field": "lo", "type": "quantitative"}}},
                    {"mark": {"type": "rule", "color": "#111", "strokeWidth": 2}, "encoding": {"x": {"datum": 1.03, "type": "quantitative"}, "x2": {"datum": 1.043}, "y": {"field": "hi", "type": "quantitative"}}},
                    {"transform": [{"calculate": "(datum.lo + datum.hi) / 2", "as": "mid"}], "mark": {"type": "text", "align": "left", "fontSize": 13, "color": "#222"}, "encoding": {"x": {"datum": 1.062, "type": "quantitative"}, "y": {"field": "mid", "type": "quantitative"}, "text": {"field": "grp"}}}
                  ]
                }
              ]
            },
            {
              "width": 629, "height": 148,
              "data": {"name": "nF"},
              "transform": [{"fold": ["Pre-breakfast", "2-h post breakfast", "Pre-lunch", "2-h post lunch", "Pre-dinner", "2-h post dinner", "Bedtime"], "as": ["m", "n"]}],
              "encoding": {
                "x": {"field": "m", "type": "ordinal", "sort": null, "scale": {"type": "point", "domain": ["Pre-breakfast", "2-h post breakfast", "Pre-lunch", "2-h post lunch", "Pre-dinner", "2-h post dinner", "Bedtime"], "padding": 0.506, "align": 1}, "axis": null},
                "y": {"field": "g", "type": "nominal", "scale": {"domain": ["b|No. of patients at baseline", "b|Tirzepatide 5 mg", "b|Tirzepatide 10 mg", "b|Tirzepatide 15 mg", "b|Insulin glargine", "w|No. of patients at 40 weeks", "w|Tirzepatide 5 mg", "w|Tirzepatide 10 mg", "w|Tirzepatide 15 mg", "w|Insulin glargine"], "padding": 0.33}, "axis": {"title": null, "domain": false, "ticks": false, "labelAlign": "left", "labelPadding": 114, "labelFontSize": 13, "labelColor": "#222", "labelExpr": "slice(datum.label, 2)"}}
              },
              "layer": [
                {"mark": {"type": "text", "fontSize": 13, "color": "#222"}, "encoding": {"text": {"field": "n", "type": "quantitative"}}},
                {
                  "transform": [{"filter": "false"}],
                  "mark": {"type": "square", "opacity": 1},
                  "encoding": {"color": {"field": "s", "type": "nominal", "title": null, "scale": {"domain": ["Tirzepatide 5 mg", "Tirzepatide 10 mg", "Tirzepatide 15 mg", "Insulin glargine"], "range": ["#addff7", "#3b5bff", "#1f0099", "#595959"]}, "legend": {"orient": "none", "legendX": 55, "legendY": 162, "direction": "horizontal", "symbolType": "square", "symbolSize": 289, "symbolStrokeWidth": 0, "symbolOpacity": 1, "columnPadding": 30, "labelOffset": 6, "labelFontSize": 13, "labelColor": "#222", "padding": 0}}}
                }
              ]
            }
          ]
        }
      ]
    }
  ]
}
